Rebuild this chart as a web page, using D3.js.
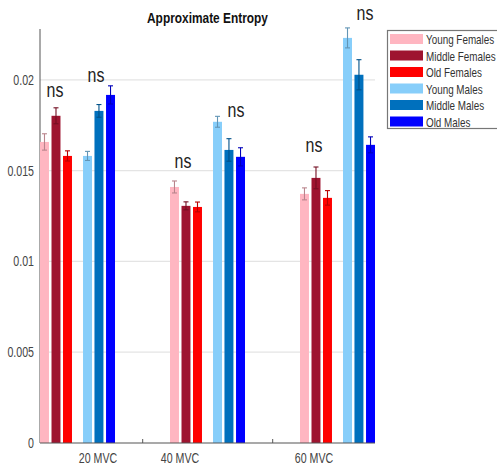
<!DOCTYPE html>
<html><head><meta charset="utf-8">
<script src="https://cdn.jsdelivr.net/npm/d3@7"></script>
<style>
html,body{margin:0;padding:0;background:#fff;}
svg{display:block;font-family:"Liberation Sans",Arial,sans-serif;}
</style></head>
<body><svg id="c" width="497" height="466"></svg>
<script>
// ---- data ----
const categories = ["20 MVC", "40 MVC", "60 MVC"];
const seriesNames = ["Young Females", "Middle Females", "Old Females", "Young Males", "Middle Males", "Old Males"];
const seriesColors = ["#ffb6c1", "#9e1430", "#ff0000", "#87cefa", "#0070bd", "#0000ff"];
const youngFemales  = [0.01658, 0.01410, 0.01372];
const middleFemales = [0.01802, 0.01306, 0.01460];
const oldFemales    = [0.01581, 0.01300, 0.01350];
const youngMales    = [0.01581, 0.01769, 0.02231];
const middleMales   = [0.01829, 0.01614, 0.02028];
const oldMales      = [0.01917, 0.01576, 0.01642];
const youngFemalesErr  = [0.00045, 0.00033, 0.00033];
const middleFemalesErr = [0.00044, 0.00022, 0.00060];
const oldFemalesErr    = [0.00028, 0.00027, 0.00040];
const youngMalesErr    = [0.00025, 0.00030, 0.00055];
const middleMalesErr   = [0.00035, 0.00062, 0.00083];
const oldMalesErr      = [0.00050, 0.00050, 0.00044];
const yTicks = [0, 0.005, 0.01, 0.015, 0.02];
const yTickLabels = ["0", "0.005", "0.01", "0.015", "0.02"];
const nsLabels = ["ns", "ns", "ns", "ns", "ns", "ns"];
const nsGroup = [0, 0, 1, 1, 2, 2];
const nsValue = [0.01906, 0.01988, 0.01515, 0.01796, 0.01603, 0.02330];
const title = "Approximate Entropy";

const values = [youngFemales, middleFemales, oldFemales, youngMales, middleMales, oldMales];
const errs = [youngFemalesErr, middleFemalesErr, oldFemalesErr, youngMalesErr, middleMalesErr, oldMalesErr];

// ---- layout ----
const svg = d3.select("#c");
const L = 40, R = 375, T = 29, B = 443;
const x = d3.scaleLinear().domain([0, 2.577]).range([L, R]);
const y = d3.scaleLinear().domain([0, 0.0228]).range([B, T]);
const seriesOffset = [0, 0.0885, 0.177, 0.331, 0.419, 0.508];
const barW = 0.069;
const tickPos = [0.79, 1.79];
const labelPos = [0.446, 1.077, 2.108];
const nsOffset = [0.115, 0.431, 0.10, 0.508, 0.108, 0.50];
const sx = 0.76;

// gridlines
svg.append("g").selectAll("line").data(yTicks.slice(1)).join("line")
  .attr("x1", L).attr("x2", R).attr("y1", d => y(d)).attr("y2", d => y(d))
  .attr("stroke", "#e4e4e4").attr("stroke-width", 1.2);

// y axis
svg.append("line").attr("x1", L).attr("x2", L).attr("y1", T).attr("y2", B)
  .attr("stroke", "#555").attr("stroke-width", 1);
svg.append("g").selectAll("text").data(yTicks).join("text")
  .attr("transform", d => `translate(${L - 6},${y(d) + 5}) scale(${sx},1)`)
  .attr("text-anchor", "end").attr("font-size", 14).attr("fill", "#444")
  .text((d, i) => yTickLabels[i]);

// bars
const barData = [];
values.forEach((arr, s) => arr.forEach((v, g) => barData.push({s, g, v, e: errs[s][g]})));
svg.append("g").selectAll("rect").data(barData).join("rect")
  .attr("x", d => x(d.g + seriesOffset[d.s]))
  .attr("width", d => x(barW) - x(0))
  .attr("y", d => y(d.v)).attr("height", d => y(0) - y(d.v))
  .attr("fill", d => seriesColors[d.s]);

// x axis
svg.append("line").attr("x1", L).attr("x2", R).attr("y1", B).attr("y2", B)
  .attr("stroke", "#555").attr("stroke-width", 1.2);
svg.append("g").selectAll("line").data(tickPos).join("line")
  .attr("x1", d => x(d)).attr("x2", d => x(d)).attr("y1", B).attr("y2", B - 4)
  .attr("stroke", "#555");
svg.append("g").selectAll("text").data(categories).join("text")
  .attr("transform", (d, i) => `translate(${x(labelPos[i])},${B + 20}) scale(${sx},1)`)
  .attr("text-anchor", "middle").attr("font-size", 14).attr("fill", "#444")
  .text(d => d);

// error bars
const eg = svg.append("g").selectAll("g").data(barData).join("g")
  .attr("stroke", d => d3.color(seriesColors[d.s]).darker(0.9)).attr("stroke-width", 1.1);
eg.append("line")
  .attr("x1", d => x(d.g + seriesOffset[d.s] + barW / 2)).attr("x2", d => x(d.g + seriesOffset[d.s] + barW / 2))
  .attr("y1", d => y(d.v - d.e)).attr("y2", d => y(d.v + d.e));
["+", "-"].forEach(sign => {
  eg.append("line")
    .attr("x1", d => x(d.g + seriesOffset[d.s] + barW / 2) - 2.5)
    .attr("x2", d => x(d.g + seriesOffset[d.s] + barW / 2) + 2.5)
    .attr("y1", d => y(sign === "+" ? d.v + d.e : d.v - d.e))
    .attr("y2", d => y(sign === "+" ? d.v + d.e : d.v - d.e));
});

// ns annotations
svg.append("g").selectAll("text").data(nsLabels).join("text")
  .attr("transform", (d, i) => `translate(${x(nsGroup[i] + nsOffset[i])},${y(nsValue[i])}) scale(${sx},1)`)
  .attr("text-anchor", "middle").attr("font-size", 21).attr("fill", "#222")
  .text(d => d);

// title
svg.append("text").attr("transform", `translate(${(L + R) / 2},${23}) scale(0.85,1)`)
  .attr("text-anchor", "middle").attr("font-size", 14).attr("font-weight", "bold").attr("fill", "#111")
  .text(title);

// legend
const lg = svg.append("g");
lg.append("rect").attr("x", 387.5).attr("y", 30.5).attr("width", 120).attr("height", 98)
  .attr("fill", "#fff").attr("stroke", "#777").attr("stroke-width", 1.2);
const items = lg.selectAll("g").data(seriesNames).join("g")
  .attr("transform", (d, i) => `translate(0,${34 + i * 16.5})`);
items.append("rect").attr("x", 390).attr("y", 0).attr("width", 33).attr("height", 10)
  .attr("fill", (d, i) => seriesColors[i]);
items.append("text").attr("transform", `translate(426,10) scale(0.76,1)`)
  .attr("font-size", 13).attr("fill", "#333").text(d => d);
</script>
</body></html>
